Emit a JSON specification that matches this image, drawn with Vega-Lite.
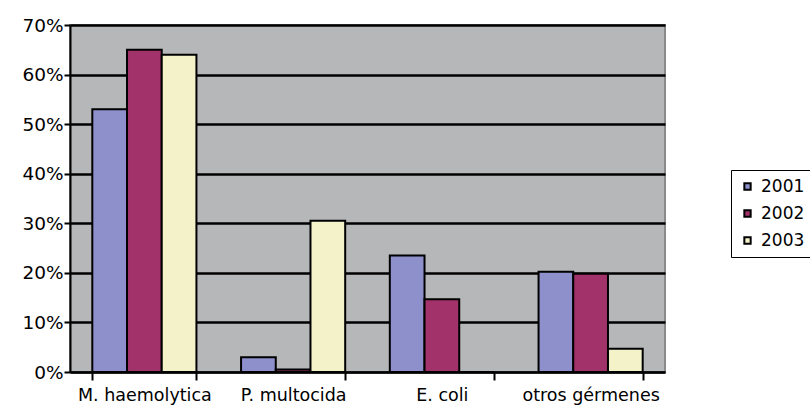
{
  "$schema": "https://vega.github.io/schema/vega-lite/v6.json",
  "autosize": "none",
  "width": 595,
  "height": 347,
  "padding": {"left": 70, "top": 25, "right": 145, "bottom": 41},
  "background": "white",
  "config": {
    "view": {"fill": "#b6b7b9", "stroke": "#8a8a8a", "strokeWidth": 2},
    "font": "DejaVu Sans"
  },
  "data": {
    "values": [
      {"germen": "M. haemolytica", "year": "2001", "value": 0.53},
      {"germen": "M. haemolytica", "year": "2002", "value": 0.65},
      {"germen": "M. haemolytica", "year": "2003", "value": 0.64},
      {"germen": "P. multocida", "year": "2001", "value": 0.03},
      {"germen": "P. multocida", "year": "2002", "value": 0.005},
      {"germen": "P. multocida", "year": "2003", "value": 0.305},
      {"germen": "E. coli", "year": "2001", "value": 0.235},
      {"germen": "E. coli", "year": "2002", "value": 0.147},
      {"germen": "E. coli", "year": "2003", "value": 0.0},
      {"germen": "otros gérmenes", "year": "2001", "value": 0.202},
      {"germen": "otros gérmenes", "year": "2002", "value": 0.198},
      {"germen": "otros gérmenes", "year": "2003", "value": 0.047}
    ]
  },
  "mark": {"type": "bar", "stroke": "black", "strokeWidth": 2},
  "encoding": {
    "x": {
      "field": "germen",
      "type": "nominal",
      "sort": null,
      "scale": {"paddingInner": 0.3, "paddingOuter": 0.15},
      "axis": {
        "title": null,
        "labelAngle": 0,
        "labelFontSize": 17.5,
        "labelColor": "black",
        "labelPadding": 6,
        "domainColor": "black",
        "domainWidth": 2,
        "tickColor": "black",
        "tickWidth": 2,
        "tickSize": 8,
        "tickBand": "extent"
      }
    },
    "xOffset": {"field": "year", "type": "nominal"},
    "y": {
      "field": "value",
      "type": "quantitative",
      "scale": {"domain": [0, 0.7], "nice": false},
      "axis": {
        "title": null,
        "format": ".0%",
        "values": [0, 0.1, 0.2, 0.3, 0.4, 0.5, 0.6, 0.7],
        "labelFontSize": 18.5,
        "labelColor": "black",
        "labelPadding": 1,
        "domainColor": "black",
        "domainWidth": 2,
        "tickColor": "black",
        "tickWidth": 2,
        "tickSize": 6,
        "grid": true,
        "gridColor": "black",
        "gridWidth": 2.5
      }
    },
    "color": {
      "field": "year",
      "type": "nominal",
      "scale": {"domain": ["2001", "2002", "2003"], "range": ["#8e90cc", "#a2336a", "#f4f2c8"]},
      "legend": {
        "title": null,
        "orient": "none",
        "legendX": 661,
        "legendY": 145,
        "strokeColor": "black",
        "padding": 8,
        "fillColor": "white",
        "symbolType": "square",
        "symbolSize": 40,
        "symbolStrokeColor": "black",
        "symbolStrokeWidth": 2,
        "labelFontSize": 17,
        "labelColor": "black",
        "rowPadding": 9,
        "labelOffset": 5
      }
    }
  }
}
